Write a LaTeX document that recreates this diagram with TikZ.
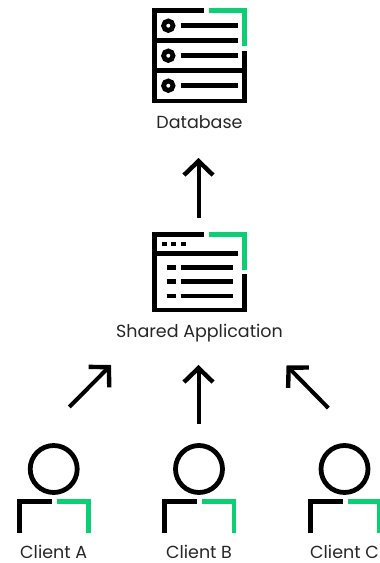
\documentclass[tikz,border=0pt]{standalone}
\usepackage{fontspec}
\setmainfont{Poppins}
\usetikzlibrary{arrows.meta}
\definecolor{brandgreen}{HTML}{0CCF75}
\tikzset{
  icon/.style={line width=4.8pt,miter limit=10},
  blackline/.style={icon,black},
  greenline/.style={icon,brandgreen},
  bar/.style={line width=4.8pt,black},
  label/.style={font=\fontsize{17.5}{20}\selectfont,text=black!85,inner sep=0pt,anchor=base},
  flow/.style={line width=4pt,-{Straight Barb[length=14pt,width=29pt,line width=4.4pt]}},
}
\begin{document}
\begin{tikzpicture}[x=1pt,y=-1pt]
  \useasboundingbox (0,0) rectangle (380,563);
  % database
  \draw[blackline] (204,10.7) -- (154.5,10.7) -- (154.5,101) -- (244.5,101) -- (244.5,51);
  \draw[greenline] (209,10.7) -- (244.5,10.7) -- (244.5,46);
  \draw[blackline] (154.5,40.7) -- (237.7,40.7);
  \draw[blackline] (154.5,70.7) -- (244.5,70.7);
  \foreach \y in {25.7,55.7,85.7} {
    \draw[line width=4.8pt] (168.3,\y) circle (4.7);
    \draw[bar] (180.7,\y) -- (237.7,\y);
  }
  \node[label] (database) at (199.5,128) {Database};
  % application
  \draw[blackline] (204,234.5) -- (154.5,234.5) -- (154.5,310) -- (244.5,310) -- (244.5,274.3);
  \draw[greenline] (209,234.5) -- (244.5,234.5) -- (244.5,270);
  \draw[blackline] (154.5,253.3) -- (237.7,253.3);
  \foreach \x in {161.7,171.4,180.7} \fill (\x,241.7) rectangle +(4.8,4.5);
  \foreach \y in {267.3,281.7,296} {
    \draw[bar] (166.7,\y) -- (175.7,\y);
    \draw[bar] (180.7,\y) -- (232.7,\y);
  }
  \node[label] (application) at (199.5,337) {Shared Application};
  % clients
  \foreach \name/\x in {A/53.7,B/199,C/344.5} {
    \draw[line width=4.8pt] (\x,469) circle (23.5);
    \draw[blackline] (\x-34.4,533.3) -- (\x-34.4,501.3) -- (\x-2,501.3);
    \draw[greenline] (\x+3,501.3) -- (\x+35,501.3) -- (\x+35,533.3);
    \node[label] (client\name) at (\x,558) {Client \name};
  }
  % arrows
  \coordinate (appTop) at (198.5,218);
  \coordinate (dbBottom) at (198.5,158);
  \coordinate (fromA) at (69.3,407);
  \coordinate (intoA) at (111,365);
  \coordinate (fromB) at (198.5,424);
  \coordinate (intoB) at (198.5,365);
  \coordinate (fromC) at (328.3,408);
  \coordinate (intoC) at (286.5,365.5);
  \draw[flow] (appTop) -- (dbBottom);
  \draw[flow] (fromA) -- (intoA);
  \draw[flow] (fromB) -- (intoB);
  \draw[flow] (fromC) -- (intoC);
\end{tikzpicture}
\end{document}
